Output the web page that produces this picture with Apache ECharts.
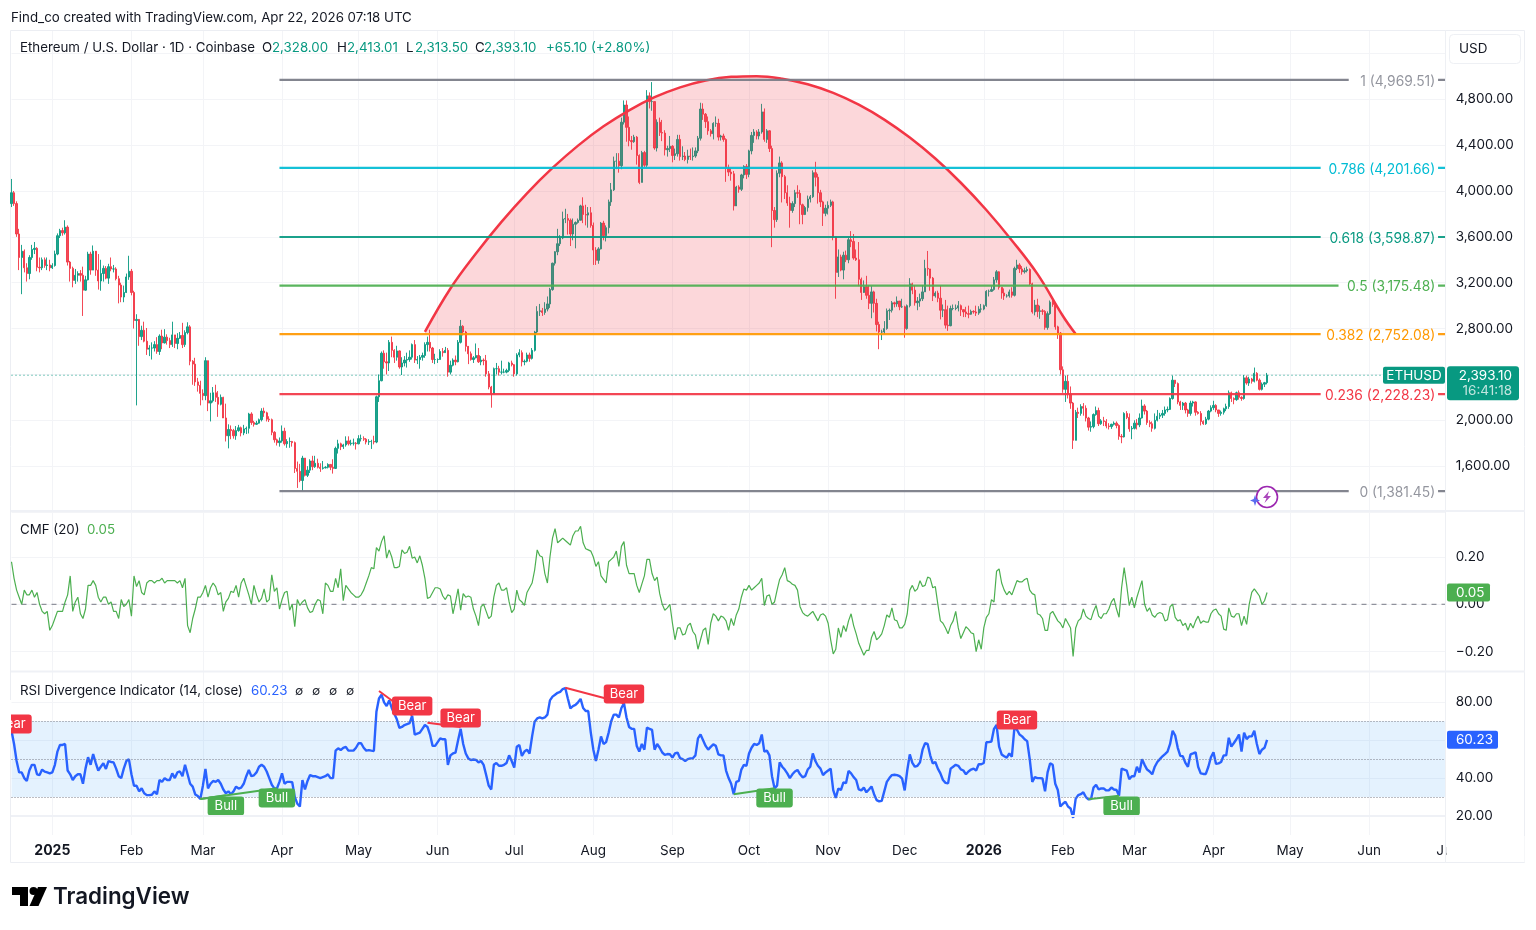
<!DOCTYPE html>
<html><head><meta charset="utf-8"><style>html,body{margin:0;padding:0;background:#fff}#c{width:1536px;height:930px}</style>
<script src="https://cdn.jsdelivr.net/npm/echarts@6/dist/echarts.min.js"></script></head><body><div id="c"></div>
<script>
const closes=[
3985,3890,3625,3420,3475,3330,3280,3420,3490,3500,3335,3330,3400,3350,3355,3330,
3350,3450,3610,3655,3635,3685,3380,3325,3220,3265,3280,3265,3135,3225,3450,3310,3475,3310,3215,3280,3325,3240,3340,3320,3320,3235,3180,3075,3115,3250,3300,
3115,2870,2880,2730,2785,2690,2620,2630,2630,2660,2600,2735,2675,2725,2695,2660,2745,2670,2715,2740,2660,2765,2815,2515,2490,2335,2305,2235,
2215,2520,2150,2170,2240,2200,2140,2200,2020,1865,1920,1910,1865,1910,1935,1890,1925,1930,2055,1980,1965,1975,2005,2080,2065,2010,2005,1895,1830,1805,1820,
1905,1795,1815,1815,1805,1580,1555,1475,1670,1520,1565,1645,1595,1625,1590,1580,1585,1590,1615,1590,1580,1755,1795,1770,1785,1820,1795,1800,1800,1795,
1840,1840,1835,1810,1815,1815,1810,2205,2345,2585,2510,2500,2680,2610,2550,2605,2465,2500,2525,2530,2550,2660,2525,2530,2550,2565,2660,2680,2630,2530,2530,
2530,2600,2590,2610,2420,2480,2525,2510,2680,2820,2770,2645,2580,2530,2545,2565,2510,2525,2520,2405,2290,2230,2450,2450,2420,2420,2420,2435,2500,2485,
2405,2570,2590,2510,2515,2570,2540,2610,2770,2950,2955,2940,2970,3015,3140,3370,3470,3540,3590,3755,3760,3745,3625,3710,3725,3745,3870,3795,3790,3810,3700,
3485,3395,3495,3720,3610,3680,3905,4010,4260,4260,4220,4600,4750,4555,4440,4430,4470,4310,4075,4335,4225,4830,4780,4780,4375,4600,4510,4505,4360,4370,4390,
4310,4325,4450,4300,4305,4275,4305,4300,4305,4350,4460,4715,4670,4605,4525,4500,4590,4590,4470,4480,4450,4200,4165,4150,3870,4035,4015,4140,4215,4145,
4350,4485,4515,4480,4515,4690,4450,4525,4370,3830,3750,4155,4245,4125,3985,3895,3830,3890,3985,3980,3880,3795,3855,3930,3950,4160,4120,3985,3905,3805,3850,
3875,3905,3600,3290,3425,3310,3440,3400,3575,3560,3415,3400,3230,3115,3165,3090,3020,3120,3020,2835,2770,2770,2800,2955,2960,3025,3015,3040,2990,2990,
2800,3000,3190,3135,3025,3040,3060,3120,3325,3320,3240,3085,3110,3065,2960,2965,2830,2825,2975,2975,2980,3000,2965,2945,2930,2925,2950,2945,2935,2970,2970,
3000,3125,3125,3140,3225,3295,3160,3110,3085,3085,3120,3090,3325,3355,3320,3295,3305,3315,3190,2945,3005,2950,2955,2950,2810,2930,3030,3010,2815,2760,2440,
2270,2340,2230,2150,1825,2070,2060,2120,2105,2020,1940,1945,2050,2085,1970,1995,1990,1950,1945,1965,1975,1955,1860,1855,2060,2025,1925,1930,
1975,1960,2020,2125,2080,1980,1970,1930,2000,2035,2045,2060,2090,2095,2190,2350,2320,2160,2130,2150,2090,2060,2150,2160,2070,2060,1990,1970,2010,2080,2110,
2130,2090,2060,2070,2100,2120,2240,2190,2180,2240,2200,2190,2370,2325,2360,2340,2410,2350,2270,2315,2328,2393.10];
const highs=[
4105,4000,3910,3670,3530,3490,3370,3440,3530,3555,3510,3420,3420,3420,3420,3400,
3370,3480,3630,3670,3680,3745,3700,3390,3340,3320,3300,3310,3340,3260,3470,3470,3525,3450,3450,3400,3350,3345,3365,3420,3355,3335,3260,3200,3175,3280,3435,
3320,3130,2925,2830,2825,2860,2805,2655,2680,2690,2725,2750,2790,2795,2750,2720,2860,2745,2760,2770,2850,2785,2855,2830,2525,2545,2370,2345,
2270,2550,2520,2240,2290,2310,2255,2225,2205,2145,1965,1955,1925,1950,1960,1945,1960,1945,2065,2070,1995,1995,2015,2105,2110,2075,2035,2015,1905,1840,1850,
1955,1935,1835,1850,1820,1815,1640,1620,1690,1670,1600,1660,1690,1690,1665,1625,1645,1600,1625,1615,1660,1770,1830,1805,1795,1860,1860,1830,1840,1810,
1870,1875,1860,1845,1835,1830,1865,2215,2400,2600,2610,2590,2700,2730,2620,2650,2610,2550,2560,2590,2610,2670,2700,2560,2570,2590,2680,2730,2790,2640,2580,
2540,2620,2630,2640,2630,2520,2540,2565,2700,2875,2830,2780,2640,2600,2560,2670,2630,2560,2540,2570,2430,2300,2460,2500,2475,2520,2450,2450,2510,2520,
2490,2585,2620,2610,2530,2590,2590,2630,2780,2995,3015,2980,3030,3080,3155,3375,3475,3670,3615,3820,3845,3800,3760,3760,3735,3760,3880,3945,3880,3860,3860,
3725,3510,3510,3730,3740,3700,3925,4070,4300,4330,4330,4640,4790,4790,4650,4480,4490,4480,4320,4350,4350,4880,4860,4950,4780,4625,4640,4620,4530,4395,4480,
4400,4370,4490,4490,4390,4340,4360,4370,4380,4380,4480,4770,4765,4680,4650,4540,4600,4650,4630,4490,4500,4460,4230,4200,4175,4045,4050,4150,4225,4235,
4360,4515,4540,4530,4540,4760,4720,4540,4530,4395,3860,4180,4300,4260,4140,4050,3950,3910,4010,4050,4010,3890,3870,3960,3965,4180,4255,4150,4010,3915,3880,
3910,3925,3915,3600,3490,3445,3470,3480,3590,3650,3625,3490,3555,3245,3220,3260,3175,3170,3130,3060,2860,2790,2865,2975,2975,3040,3035,3080,3040,3060,
3000,3010,3240,3200,3175,3075,3105,3180,3400,3477,3320,3250,3125,3130,3175,3010,3050,3000,3000,3010,3010,3040,3010,2960,2990,3000,2965,2960,3000,2995,3015,
3010,3135,3140,3170,3250,3310,3300,3160,3150,3100,3140,3160,3340,3400,3370,3345,3330,3340,3325,3200,3050,3060,3000,2970,2960,2950,3045,3050,3015,2825,2770,
2470,2390,2395,2295,2160,2090,2110,2140,2150,2130,2030,1990,2060,2120,2110,2010,2030,2010,1975,1970,1990,1990,1965,1880,2070,2080,2060,1950,
2000,2010,2060,2180,2140,2090,2000,1990,2060,2090,2065,2090,2120,2120,2200,2390,2350,2330,2170,2160,2160,2100,2170,2170,2165,2080,2080,2000,2030,2090,2130,
2170,2140,2090,2085,2110,2145,2260,2250,2200,2250,2260,2210,2395,2390,2380,2370,2460,2420,2365,2330,2335,2413.01];
const lows=[
3860,3870,3600,3310,3100,3290,3210,3230,3400,3450,3300,3290,3310,3330,3310,3300,
3320,3340,3440,3590,3610,3620,3350,3210,3160,3190,3210,3210,2910,3130,3220,3270,3310,3260,3140,3130,3210,3230,3190,3300,3290,3220,3020,3030,3030,3110,3225,
3090,2800,2130,2650,2700,2680,2570,2560,2530,2600,2580,2570,2620,2670,2660,2630,2640,2630,2620,2710,2630,2640,2750,2480,2310,2300,2250,2130,
2175,2175,2080,1990,2155,2160,2030,2130,2020,1815,1755,1835,1840,1830,1900,1860,1870,1880,1885,1960,1945,1960,1970,1990,2030,1990,1985,1870,1805,1780,1770,
1805,1780,1760,1760,1770,1540,1410,1460,1385,1510,1505,1540,1565,1585,1580,1550,1570,1580,1580,1565,1535,1575,1710,1740,1750,1770,1780,1780,1780,1745,
1790,1815,1820,1790,1785,1750,1790,1800,2160,2340,2450,2400,2430,2550,2500,2520,2450,2395,2470,2460,2510,2530,2500,2490,2450,2520,2545,2600,2600,2500,2490,
2500,2530,2555,2590,2380,2400,2470,2480,2505,2670,2740,2600,2490,2520,2500,2540,2500,2480,2480,2380,2270,2110,2240,2400,2390,2400,2410,2410,2420,2470,
2380,2390,2550,2470,2480,2505,2510,2530,2600,2755,2910,2910,2920,2950,2980,3130,3350,3440,3520,3580,3720,3620,3520,3570,3500,3715,3750,3720,3700,3680,3680,
3355,3355,3365,3490,3570,3560,3630,3870,4000,4190,4160,4190,4580,4430,4390,4360,4420,4230,4060,4075,4210,4210,4720,4700,4360,4345,4480,4435,4310,4300,4340,
4250,4270,4300,4265,4270,4260,4240,4270,4265,4290,4330,4440,4620,4550,4490,4475,4450,4560,4440,4440,4430,4080,4130,4090,3830,3880,3985,4000,4110,4105,
4120,4320,4420,4450,4450,4500,4430,4420,4340,3510,3680,3730,4120,3900,3930,3870,3680,3810,3860,3940,3710,3710,3790,3820,3900,3940,4040,3890,3860,3695,3780,
3795,3860,3570,3060,3250,3300,3230,3380,3370,3510,3400,3390,3170,3050,3120,3060,2970,2890,2940,2775,2620,2700,2750,2790,2875,2940,2985,2990,2960,2980,
2720,2790,2985,3100,3000,2960,2990,3040,3120,3260,3130,3040,3070,3030,2880,2900,2800,2780,2820,2960,2960,2950,2910,2900,2900,2890,2920,2930,2910,2920,2940,
2960,2990,3080,3120,3130,3200,3140,3060,3050,3070,3070,3070,3080,3310,3285,3270,3280,3290,3180,2930,2915,2900,2885,2920,2790,2790,2920,2990,2790,2710,2400,
2240,2160,2190,2100,1750,1825,2020,2040,2040,1990,1910,1900,1930,2040,1950,1960,1950,1930,1920,1925,1955,1930,1830,1800,1850,2010,1900,1835,
1920,1920,1940,2015,2050,1960,1940,1900,1920,1990,2010,2020,2040,2070,2090,2180,2290,2140,2090,2090,2060,2030,2040,2120,2040,2050,1955,1960,1960,2000,2070,
2090,2070,2030,2040,2050,2080,2100,2160,2140,2170,2180,2170,2180,2310,2300,2320,2330,2340,2260,2260,2290,2313.50];
const cmfValues=[
.18,.11,.06,.03,0,.06,.04,.04,.06,.03,.05,0,-.03,-.04,-.03,-.11,
-.09,-.06,-.03,-.03,-.03,.01,.04,.12,-.03,.01,.03,-.04,-.06,-.02,.08,.08,.10,.08,.03,.01,.03,.03,0,.01,-.03,-.03,-.06,.02,-.01,0,.02,
-.05,.12,.075,.10,.05,.04,.09,.10,.10,.09,.10,.10,.11,.09,.10,.10,.10,.10,.09,.10,.07,.11,-.09,-.12,-.06,-.02,.03,.03,
.05,.08,.03,.07,.09,.075,.04,.05,-.03,.01,.025,.055,.05,.08,.03,.09,.11,.075,.04,0,.08,.04,.01,.025,.065,.01,.02,.125,.055,.07,-.02,
.02,.05,.055,-.025,0,-.095,.02,-.005,.01,.02,-.015,-.035,-.03,0,.02,.015,-.04,.09,.08,.055,.055,.11,.07,.15,.015,.08,.065,.05,.04,.03,
.03,.04,.06,.09,.12,.155,.15,.24,.225,.265,.29,.195,.23,.2,.155,.155,.16,.23,.215,.22,.245,.195,.2,.175,.205,.165,.11,.025,.03,.05,.07,
.07,.065,.035,.02,.04,.035,-.04,.01,.065,-.025,.045,.03,.035,.03,-.02,-.05,-.09,-.01,0,-.03,-.06,-.05,.03,.08,.09,.06,.06,.07,.01,-.035,
-.02,.06,.02,.01,-.005,.05,.07,.09,.145,.23,.205,.2,.13,.09,.2,.28,.32,.26,.27,.28,.27,.26,.25,.29,.31,.31,.33,.26,.235,.23,.225,
.2,.16,.18,.12,.105,.09,.18,.19,.2,.225,.16,.245,.265,.165,.13,.13,.13,.08,.05,.085,.12,.19,.19,.13,.1,.115,.045,0,-.025,-.015,0,
-.08,-.15,-.1,-.1,-.13,-.125,-.09,-.08,-.115,-.13,-.19,-.15,-.11,-.1,-.17,-.08,-.04,-.05,-.07,-.05,-.055,-.07,-.11,-.06,-.09,-.045,-.02,.03,.065,.06,
.08,.06,.07,.08,.09,.11,-.005,.035,.04,0,.01,.06,.105,.125,.155,.1,.095,.085,.08,.06,-.01,-.035,-.045,-.05,-.04,-.03,-.05,-.07,-.045,-.04,-.05,
-.08,-.15,-.21,-.19,-.1,-.14,-.09,-.115,-.07,-.04,-.09,-.125,-.165,-.19,-.215,-.195,-.195,-.14,-.115,-.15,-.14,-.125,-.09,-.045,-.055,-.015,-.065,-.07,-.1,-.1,
-.085,-.04,.06,.08,.055,.065,.1,.075,.08,.115,.11,.07,.075,0,-.07,-.08,-.1,-.125,-.09,-.07,-.03,-.1,-.145,-.12,-.095,-.105,-.12,-.125,-.2,-.15,-.19,
-.1,-.055,-.04,.02,.01,.14,.15,.09,.06,.04,.055,.04,.07,.1,.095,.095,.105,.11,.06,.045,.04,-.04,-.045,-.06,-.11,-.11,-.04,-.03,-.05,-.07,-.08,
-.1,-.06,-.08,-.1,-.22,-.1,-.07,-.06,-.02,-.05,-.06,-.065,-.03,-.005,-.05,-.06,-.04,-.04,-.02,.01,.025,-.02,-.055,.07,.155,.08,-.005,.03,
-.015,.03,.065,.1,0,-.03,-.015,-.045,-.055,-.04,-.035,-.04,-.07,-.065,-.01,0,-.055,-.07,-.065,-.09,-.08,-.11,-.08,-.1,-.07,-.05,-.08,-.07,-.075,-.075,-.04,
-.025,-.02,-.04,-.05,-.105,-.11,-.015,-.05,-.055,-.04,-.04,-.09,-.05,-.085,0,.05,.065,.05,.035,0,.015,.05];
const rsiValues=[
65,58,49,43,43,40,38.5,44,47,47,42,41.6,44.5,43.4,43,42.5,
43,47,54,57.5,57.5,58,44,42,39,41,42,42,37,45,51,47,52.7,48,44,46,47.8,44.8,49,48.5,48.3,45,41,40,45,49,50,
42,36,36,33,34.6,32,31,31,31.2,33,31.5,39,38,40,39,39,42.5,40,43,43.5,41,47,42,37,35.5,31.4,30.5,29,
36,44.8,34.6,37,38.5,38,39,37,34,32,33,31.5,33,35.5,34.5,35,37,41,44.3,41,41.5,43,46,47,46,43.5,40,36.5,34.6,34.5,38,
42.5,37,38,38,37.8,30,26.5,25,39,34,38.5,41.6,41,41,40.5,40,40.5,41,42,40,40,54.5,55.7,54.8,56,56.5,54.5,54.5,54.5,56,
58.4,58.4,56,54.5,54.8,54.5,54.3,75,82,84,80,78,81,77,74,71,66.5,67,68,68.5,69,73,63,63.5,64,66,68,67,63,57,57,
59,61,60.5,60.5,47,52,53,53.5,60,66,58,53,50.4,49.5,49.8,49.6,48.3,49,47,41.6,36,34,47,48,46.5,46.5,47,48,52,49,
45.5,56.6,57.5,51.7,54,55,53,62,69.8,71.5,72,71.5,72,73.5,81,83,84,85,85.5,87,87.5,82,76.8,78,78.6,80,81.8,77,75.4,75.4,64,
55,49,55,62,58,59,64,70,73.5,73.5,72,77,79.5,72,67,66,66,57,54,58,55,66.6,66,65.4,55,58,56,53.5,52.3,52.7,52.6,
50.8,53,53.5,50.5,50,49,50,50.4,50.5,52,61,63,60,57,55,56.5,57.8,57,52.5,52,52,44,40,37,31.5,38,38.5,44.5,47,46.5,
53,56,58,57.5,58.4,63,54,54.5,52,41,34.6,36,48.3,46,44.5,42.5,40,42,43.5,44.3,42,40.4,41,44.5,46,53,49,46.5,45,41.6,43,
44,45,33.7,29.5,34.5,33.7,37.8,37.3,43.8,42.5,40.5,39,34,33.5,35,32.5,34,35.6,31.5,28.4,27.7,28,33,38,40,41.6,41.8,41.6,41,39.7,
33.5,44,52.5,48,46,46.5,48.3,55,58.4,58,52,47.8,48.5,45,42.5,39,37.5,37.2,45,46,47,46.5,44.6,44,42,43.5,44.5,45,44,47.3,47.3,
48,58.9,59,59.3,66,68,56.6,52.5,51.5,50.8,53,51.3,66.6,65.5,63,62,60.5,59.5,50,38,40.5,40,40,39.8,33,43,47.8,47,37,33.7,25,
26.5,27.5,25,24,19,29,31,31.5,32.5,30,28.8,28.9,35,36.5,34,34.6,34.5,33.5,33.5,35,34,33.7,30.7,45,44.5,44,39.4,41,
41,46,43,50,47,44.5,43.5,42,46,48.5,50,51.5,52.7,54,58,65,62.5,56,51.7,51.5,48,46,52.5,53,53.6,46,42.5,42.2,42.2,46,51,
53.6,47.5,47.8,48.5,52,52,61.3,56.6,58.5,60.5,63,54,64,60.6,62,62,65,58,52.7,55,56,60.23];

const fibLevels=['1','0.786','0.618','0.5','0.382','0.236','0'];
const fibPrices=[4969.51,4201.66,3598.87,3175.48,2752.08,2228.23,1381.45];
const fibColors=['#787B86','#00BCD4','#089981','#4CAF50','#FF9800','#F23645','#787B86'];
const fibStart='2025-03-31';
const fibEnds=['2026-05-24','2026-05-13','2026-05-13','2026-05-20','2026-05-13','2026-05-13','2026-05-24'];
const fibTickStart='2026-06-28';

const arcDates=['2025-05-27','2025-06-06','2025-06-16','2025-06-26','2025-07-06','2025-07-16','2025-07-26','2025-08-05','2025-08-15','2025-08-25','2025-09-04','2025-09-14','2025-09-24','2025-10-04','2025-10-14','2025-10-24','2025-11-03','2025-11-13','2025-11-23','2025-12-03','2025-12-13','2025-12-23','2026-01-02','2026-01-12','2026-01-22','2026-02-01','2026-02-06'];
const arcPrices=[2771,3150,3455,3731,3980,4201,4396,4564,4704,4818,4904,4964,4996,5002,4980,4931,4856,4753,4623,4466,4283,4072,3834,3569,3277,2910,2752];

const bearLines=[[['2025-05-09',86],['2025-05-22',73]],[['2025-05-28',69.2],['2025-06-10',67]],[['2025-07-21',87.7],['2025-08-13',79.5]],[['2026-01-06',68.4],['2026-01-13',66.6]]];
const bullLines=[[['2025-02-28',29],['2025-03-10',31]],[['2025-02-28',29],['2025-03-30',34.6]],[['2025-09-25',31.5],['2025-10-11',34.6]],[['2026-02-11',28.8],['2026-02-23',30.7]]];
const bearTags=[['2024-12-16',68.5],['2025-05-22',78],['2025-06-10',71.7],['2025-08-13',84.4],['2026-01-14',70.7]];
const bullTags=[['2025-03-10',25.3],['2025-03-30',29.5],['2025-10-11',29.5],['2026-02-24',25.3]];
const rsiLevels=[70,50,30];
const lastPrice=2393.10;

const N=493;
if(closes.length!==N||highs.length!==N||lows.length!==N||cmfValues.length!==N||rsiValues.length!==N)
  throw new Error('len '+[closes.length,highs.length,lows.length,cmfValues.length,rsiValues.length]);

const pad=n=>String(n).padStart(2,'0');
const categories=[];
for(let t=Date.UTC(2024,11,16);t<=Date.UTC(2026,6,1);t+=864e5){const d=new Date(t);categories.push(d.getUTCFullYear()+'-'+pad(d.getUTCMonth()+1)+'-'+pad(d.getUTCDate()));}
const lastCat=categories[categories.length-1], firstCat=categories[0];
const candles=closes.map((c,i)=>[i?closes[i-1]:3890,c,lows[i],highs[i]]);

const UP='#089981',DN='#F23645',FONT='Inter, "Liberation Sans", sans-serif',GRID='#F3F4F7',INK='#131722';
const isMonth=(i,v)=>String(v).endsWith('-01');
const MON=['Jan','Feb','Mar','Apr','May','Jun','Jul','Aug','Sep','Oct','Nov','Dec'];
const xAxis=[0,1,2].map(g=>({type:'category',gridIndex:g,data:categories,boundaryGap:false,
  axisLine:{show:false},axisTick:{show:false},
  splitLine:{show:true,interval:isMonth,lineStyle:{color:GRID,width:1}},
  axisLabel:g<2?{show:false}:{show:true,interval:isMonth,margin:9,fontFamily:FONT,fontSize:13.5,color:INK,hideOverlap:false,
    formatter:v=>{const[y,m]=v.split('-');return m==='01'?'{y|'+y+'}':MON[+m-1];},
    rich:{y:{fontWeight:'bold',fontFamily:FONT,fontSize:14,color:INK}}}}));
const yBase={type:'value',position:'right',scale:false,axisLine:{show:false},axisTick:{show:false}};
const lbl={fontFamily:FONT,fontSize:13.5,color:INK,margin:10,padding:[2,0,0,0]};
const fmt2=v=>v.toLocaleString('en-US',{minimumFractionDigits:2,maximumFractionDigits:2});
const yAxis=[
 {...yBase,gridIndex:0,min:1200,max:5400,interval:400,splitLine:{lineStyle:{color:[GRID],width:1}},
  axisLabel:{...lbl,formatter:v=>(v<1600||v>4800)?'':fmt2(v)}},
 {...yBase,gridIndex:1,min:-0.4,max:0.4,interval:0.2,
  splitLine:{lineStyle:{color:['rgba(0,0,0,0)',GRID,GRID,GRID,'rgba(0,0,0,0)'],width:1}},
  axisLabel:{...lbl,formatter:v=>{const r=Math.round(v*100)/100;return Math.abs(r)>0.3?'':(r<0?'\u2212':'')+Math.abs(r).toFixed(2);}}},
 {...yBase,gridIndex:2,min:10,max:100,interval:10,
  splitLine:{lineStyle:{color:['rgba(0,0,0,0)',GRID,'rgba(0,0,0,0)',GRID,'rgba(0,0,0,0)',GRID,'rgba(0,0,0,0)',GRID,'rgba(0,0,0,0)','rgba(0,0,0,0)'],width:1}},
  axisLabel:{...lbl,formatter:v=>(v%20===0&&v>=20&&v<=80)?v.toFixed(2):''}}
];
const none={symbol:'none',silent:true,animation:false};
const series=[
 {type:'candlestick',xAxisIndex:0,yAxisIndex:0,data:candles,barWidth:1.8,z:3,silent:true,animation:false,clip:false,
  itemStyle:{color:UP,color0:DN,borderColor:UP,borderColor0:DN,borderWidth:1,opacity:.9}},
 {...none,type:'line',xAxisIndex:0,yAxisIndex:0,z:2,data:[[firstCat,lastPrice],[lastCat,lastPrice]],lineStyle:{color:UP,width:1,type:[1,3]}},
 {...none,type:'line',xAxisIndex:0,yAxisIndex:0,z:4,smooth:0.4,data:arcDates.map((d,i)=>[d,arcPrices[i]]),
  lineStyle:{color:DN,width:2.5},areaStyle:{color:'rgba(242,54,69,0.2)',opacity:1,origin:2762}},
 ...fibPrices.map((p,i)=>({...none,type:'line',xAxisIndex:0,yAxisIndex:0,z:5,connectNulls:false,
   data:[[fibStart,p],[fibEnds[i],p],['2026-06-01','-'],[fibTickStart,p],[lastCat,p]],
   lineStyle:{color:fibColors[i],width:2.2,opacity:.92},
   markPoint:{silent:true,animation:false,symbol:'rect',symbolSize:0,data:[{coord:[lastCat,p]}],
     label:{show:true,position:'left',distance:10.5,offset:[0,1.5],formatter:fibLevels[i]+' ('+fmt2(p)+')',fontFamily:FONT,fontSize:13.8,color:fibColors[i],opacity:fibColors[i]==='#787B86'?.8:1}}})),
 {...none,type:'line',xAxisIndex:1,yAxisIndex:1,z:2,data:[[firstCat,0],[lastCat,0]],lineStyle:{color:'#787B86',width:1,type:[5,5]}},
 {...none,type:'line',xAxisIndex:1,yAxisIndex:1,z:3,data:cmfValues,lineStyle:{color:'#4CAF50',width:1.2}},
 {...none,type:'line',xAxisIndex:2,yAxisIndex:2,z:3,data:rsiValues,lineStyle:{color:'#2962FF',width:2.4},
  markArea:{silent:true,animation:false,itemStyle:{color:'rgba(33,150,243,0.12)'},data:[[{yAxis:70},{yAxis:30}]]},
  markLine:{silent:true,animation:false,symbol:'none',label:{show:false},lineStyle:{color:'#787B86',width:1,type:[1,2]},data:rsiLevels.map(v=>({yAxis:v}))}},
 ...bearLines.map(l=>({...none,type:'line',xAxisIndex:2,yAxisIndex:2,z:4,data:l,lineStyle:{color:DN,width:2}})),
 ...bullLines.map(l=>({...none,type:'line',xAxisIndex:2,yAxisIndex:2,z:4,data:l,lineStyle:{color:'#4CAF50',width:2}})),
 ...[[bearTags,DN,'Bear'],[bullTags,'#4CAF50','Bull']].map(([d,c,t])=>({type:'scatter',xAxisIndex:2,yAxisIndex:2,z:6,silent:true,animation:false,clip:false,data:d,
   symbol:'circle',symbolSize:1,itemStyle:{color:c,opacity:1},
   label:{show:true,position:'inside',formatter:t,color:'#fff',fontFamily:FONT,fontSize:13,backgroundColor:c,borderRadius:3,padding:t==='Bear'?[3,6]:[3,7]}}))
];

const el=document.getElementById('c');
const chart=echarts.init(el,null,{renderer:'canvas',width:1536,height:930});
chart.setOption({animation:false,backgroundColor:'#fff',
 grid:[{left:11.5,width:1434.2,top:30.5,height:481.5},{left:11.5,width:1434.2,top:509.7,height:189.2},{left:11.5,width:1434.2,top:664.4,height:170.55}],
 xAxis,yAxis,series});

const Z=100,FS=13.3;
const T=(x,y,text,fill,o={})=>({type:'text',z:Z+2,silent:true,style:{x,y,text,fill,font:(o.w||'400')+' '+(o.s||FS)+'px '+FONT,align:o.a||'left',verticalAlign:'middle'}});
const R=(x,y,w,h,fill,r)=>({type:'rect',z:Z+1,silent:true,shape:{x,y,width:w,height:h,r:r||0},style:{fill}});
const L=(x1,y1,x2,y2,stroke,w)=>({type:'line',z:Z+1,silent:true,shape:{x1,y1,x2,y2},style:{stroke,lineWidth:w||1}});
const yP=chart.convertToPixel({yAxisIndex:0},lastPrice);
const yC=chart.convertToPixel({yAxisIndex:1},cmfValues[N-1]);
const yR=chart.convertToPixel({yAxisIndex:2},rsiValues[N-1]);
const up='#089981';
const els=[
 R(0,700,11,40,'#fff'),
 R(1446.5,836,78,26,'#fff'),
 {type:'rect',z:2,silent:true,shape:{x:10.5,y:30.5,width:1514,height:832},style:{fill:'none',stroke:'#ECEEF3',lineWidth:1}},
 L(1445.5,30,1445.5,863,'#EEF0F4'),
 L(11,511,1525,511,'#EFF1F6',2),L(11,671.5,1525,671.5,'#EFF1F6',2),L(11,816,1445,816,'#EFF1F6',2),
 T(11,18,'Find_co created with TradingView.com, Apr 22, 2026 07:18 UTC',INK),
 T(20,48,'Ethereum / U.S. Dollar · 1D · Coinbase',INK),
 T(262,48,'O',INK),T(272,48,'2,328.00',up),T(337,48,'H',INK),T(347,48,'2,413.01',up),T(406,48,'L',INK),T(415,48,'2,313.50',up),T(475,48,'C',INK),T(484,48,'2,393.10',up),T(546,48,'+65.10 (+2.80%)',up),
 {type:'rect',z:Z+1,silent:true,shape:{x:1449.5,y:34.5,width:71,height:29,r:4},style:{fill:'#fff',stroke:'#EEF0F4',lineWidth:1}},
 T(1459,49,'USD',INK,{s:13.5}),
 T(20,529.5,'CMF (20)',INK),T(87,529.5,'0.05','#4CAF50'),
 T(20,691,'RSI Divergence Indicator (14, close)',INK),T(251,691,'60.23','#2962FF'),
 T(295,691,'\u2205',INK,{s:12}),T(312,691,'\u2205',INK,{s:12}),T(329,691,'\u2205',INK,{s:12}),T(346,691,'\u2205',INK,{s:12}),
 R(1383,yP-8.5,62,17,up,2),T(1414,yP+.5,'ETHUSD','#fff',{a:'center',s:13.5}),
 R(1447,yP-9,72,34,up,3),T(1512,yP+.5,'2,393.10','#fff',{a:'right',s:13.5}),T(1512,yP+15.5,'16:41:18','rgba(255,255,255,.75)',{a:'right',s:13.5}),
 R(1447,yC-9,43,18,'#4CAF50',2),T(1456,yC+.5,'0.05','#fff',{s:13.5}),
 R(1447,yR-9,51,18,'#2962FF',2),T(1456,yR+.5,'60.23','#fff',{s:13.5}),
 {type:'circle',z:Z+2,silent:true,shape:{cx:1267,cy:497,r:10.5},style:{fill:'#fff',stroke:'#9C27B0',lineWidth:1.6}},
 {type:'polygon',z:Z+3,silent:true,shape:{points:[[1269,491],[1263,498],[1266.5,498],[1264.5,503],[1271,496],[1267.5,496]]},style:{fill:'#AB47BC'}},
 {type:'polygon',z:Z+3,silent:true,shape:{points:[[1255,495],[1256.3,499],[1260,500.5],[1256.3,502],[1255,506],[1253.7,502],[1250,500.5],[1253.7,499]]},style:{fill:'#5B6CF0'}},
 {type:'polygon',z:Z+2,silent:true,shape:{points:[[12,887],[28,887],[28,906],[20,906],[20,895],[12,895]]},style:{fill:'#000'}},
 {type:'circle',z:Z+2,silent:true,shape:{cx:33.5,cy:891,r:4},style:{fill:'#000'}},
 {type:'polygon',z:Z+2,silent:true,shape:{points:[[38,887],[47,887],[38.5,906],[29.5,906]]},style:{fill:'#000'}},
 T(53,897,'TradingView','#131722',{s:22.4,w:'600'})
];
chart.setOption({graphic:{elements:els}});
</script></body></html>
